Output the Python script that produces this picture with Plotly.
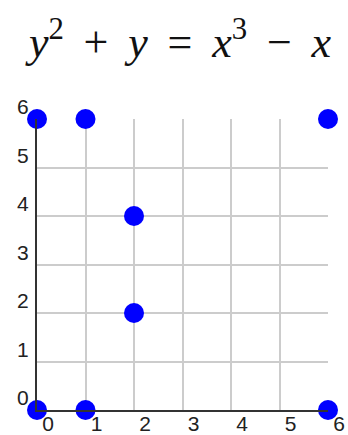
import plotly.graph_objects as go

# Points of the curve y^2 + y = x^3 - x over the field with 7 elements
xs = [0, 0, 1, 1, 2, 2, 6, 6]
ys = [0, 6, 0, 6, 2, 4, 0, 6]
tick_vals = [0, 1, 2, 3, 4, 5, 6]
tick_text = ["0", "1", "2", "3", "4", "5", "6"]

fig = go.Figure(
    go.Scatter(
        x=xs, y=ys, mode="markers",
        marker=dict(size=20, color="#0000ff", line=dict(width=0)),
        cliponaxis=False,
    )
)

tick_font = dict(family="Liberation Sans, Arial, sans-serif", size=21, color="#222222")

axis_common = dict(
    range=[0, 6],
    tickmode="array",
    tickvals=tick_vals,
    ticktext=tick_text,
    showgrid=True,
    gridcolor="#cccccc",
    gridwidth=1.5,
    zeroline=False,
    showline=True,
    linecolor="#333333",
    linewidth=2,
    ticks="",
    automargin=False,
    tickfont=tick_font,
    fixedrange=True,
)

fig.update_xaxes(**axis_common, ticklabelshift=11, ticklabelstandoff=-6)
fig.update_yaxes(**axis_common, ticklabelshift=-12, ticklabelstandoff=2)

sp = "\u2009"
fig.update_layout(
    width=348, height=435,
    margin=dict(l=37, r=20, t=119, b=25, autoexpand=False),
    paper_bgcolor="white",
    plot_bgcolor="white",
    showlegend=False,
    font=tick_font,
    title=dict(
        text=f"<i>y</i><sup>2</sup> {sp}+{sp} <i>y</i> {sp}={sp} <i>x</i><sup>3</sup> {sp}−{sp} <i>x</i>",
        x=180 / 348, xanchor="center",
        y=1 - 42 / 435, yanchor="middle", yref="container",
        automargin=False,
        font=dict(family="Liberation Serif, DejaVu Serif, serif", size=44, color="#111111"),
    ),
)

fig.write_html("out.html")
